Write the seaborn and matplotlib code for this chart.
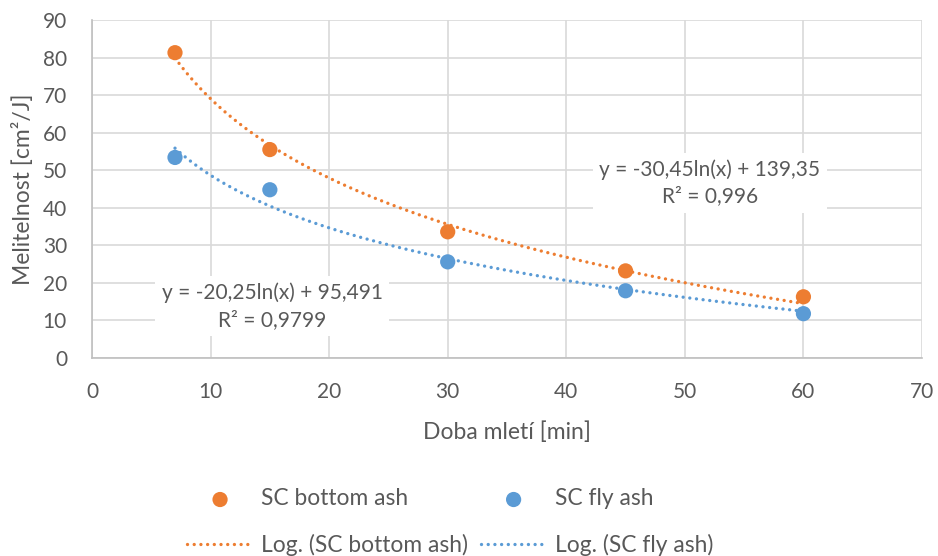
import numpy as np
import pandas as pd
import matplotlib
matplotlib.use("Agg")
import matplotlib.pyplot as plt
import seaborn as sns

time_min = [7, 15, 30, 45, 60]
bottom_ash = [81.3, 55.5, 33.6, 23.2, 16.3]
fly_ash = [53.4, 44.8, 25.6, 17.9, 11.8]
series_names = ["SC bottom ash", "SC fly ash"]
colors = ["#ED7D31", "#5B9BD5"]
eq_labels = ["y = -30,45ln(x) + 139,35\nR² = 0,996", "y = -20,25ln(x) + 95,491\nR² = 0,9799"]
xlabel = "Doba mletí [min]"
ylabel = "Melitelnost [cm²/J]"

sns.set_theme(style="white")
plt.rcParams['font.family'] = ['Lato', 'DejaVu Sans']
txt = "#595959"

fig = plt.figure(figsize=(9.38, 5.56), dpi=100)
ax = fig.add_axes([92/938, 1-358/556, (922-92)/938, (358-20)/556])

df = pd.DataFrame({"x": time_min * 2,
                   "y": bottom_ash + fly_ash,
                   "s": [series_names[0]] * 5 + [series_names[1]] * 5})

handles_sc = []
handles_ln = []
for i, name in enumerate(series_names):
    sub = df[df.s == name]
    xs = np.array(sub.x, dtype=float)
    ys = np.array(sub.y, dtype=float)
    a, b = np.polyfit(np.log(xs), ys, 1)
    xx = np.linspace(xs.min(), xs.max(), 200)
    tr = pd.DataFrame({"x": xx, "y": a * np.log(xx) + b})
    sns.lineplot(data=tr, x="x", y="y", ax=ax, color=colors[i], lw=2.4,
                 linestyle=(0, (0.01, 2.0)), dash_capstyle="round", zorder=2)
    handles_ln.append(ax.lines[-1])
    sns.scatterplot(data=sub, x="x", y="y", ax=ax, color=colors[i], s=120,
                    edgecolor="none", zorder=3)
    handles_sc.append(ax.collections[-1])

ax.text(52.1, 46.6, eq_labels[0], ha="center", va="center", fontsize=15, color=txt,
        linespacing=1.4, bbox=dict(boxstyle="square,pad=0.3", fc="white", ec="none"), zorder=4)
ax.text(15.2, 13.8, eq_labels[1], ha="center", va="center", fontsize=15, color=txt,
        linespacing=1.45, bbox=dict(boxstyle="square,pad=0.3", fc="white", ec="none"), zorder=4)

ax.set_xlim(0, 70)
ax.set_ylim(0, 90)
ax.set_xticks(range(0, 71, 10))
ax.set_yticks(range(0, 91, 10))
ax.grid(True, color="#d9d9d9", lw=1.2)
ax.set_axisbelow(True)
for k, sp in ax.spines.items():
    if k in ("left", "bottom"):
        sp.set_color("#bfbfbf")
        sp.set_linewidth(1.2)
    else:
        sp.set_visible(False)
ax.tick_params(axis="x", length=0, labelsize=15, colors=txt, pad=17)
ax.tick_params(axis="y", length=0, labelsize=15, colors=txt, pad=18)
ax.set_xlabel(xlabel, fontsize=16.5, color=txt, labelpad=14)
ax.set_ylabel(ylabel, fontsize=16.5, color=txt, labelpad=6)

leg_h = [handles_sc[0], handles_ln[0], handles_sc[1], handles_ln[1]]
leg_l = [series_names[0], "Log. (" + series_names[0] + ")",
         series_names[1], "Log. (" + series_names[1] + ")"]
fig.legend(leg_h, leg_l, ncol=2, loc="center", bbox_to_anchor=(450/938, 1-522/556),
           frameon=False, fontsize=16.4, labelcolor=txt, handlelength=2.9,
           columnspacing=0.55, handletextpad=0.35, labelspacing=1.05, scatterpoints=1)

fig.savefig("out.png", dpi=100)
